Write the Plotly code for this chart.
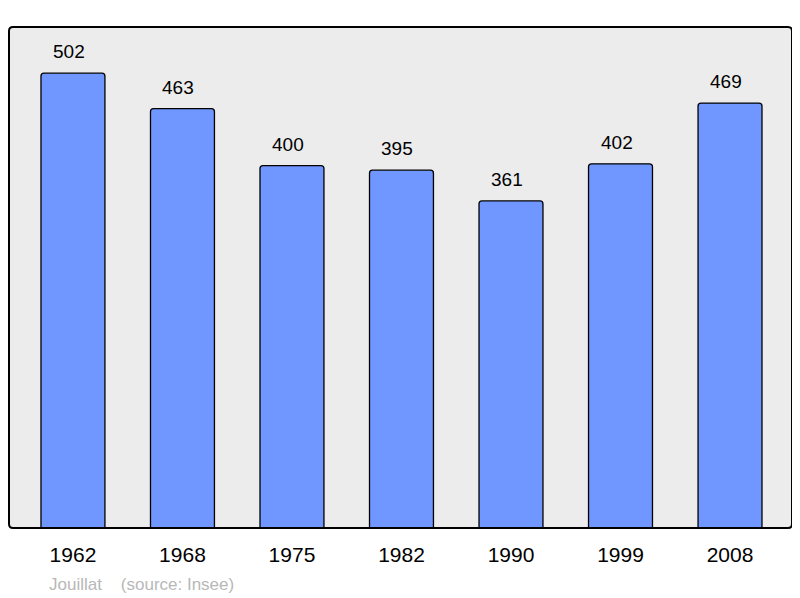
import plotly.graph_objects as go

years = ["1962", "1968", "1975", "1982", "1990", "1999", "2008"]
population = [502, 463, 400, 395, 361, 402, 469]
footer = "Jouillat    (source: Insee)"

# the page body adds an 8px offset; compensate
OFF = 8
W, H = 800 - OFF, 598 - OFF
L, R, T, B = 9 - OFF, 8, 27 - OFF, 70

fig = go.Figure()
fig.add_trace(go.Bar(
    x=years, y=population,
    width=0.584,
    marker=dict(color="#7096ff", line=dict(color="#000000", width=1.3), cornerradius=3),
    hoverinfo="x+y",
))

for i, v in enumerate(population):
    fig.add_annotation(x=i, y=v, text=str(v), showarrow=False,
                       yanchor="bottom", yshift=9, xshift=-4,
                       font=dict(family="Liberation Sans, Arial", size=19, color="#000"))

pw, ph = W - L - R, H - T - B
fig.add_annotation(xref="paper", yref="paper", x=(47 - 9) / pw, y=-(584 - 528) / ph,
                   xanchor="left", yanchor="middle", showarrow=False, text=footer,
                   font=dict(family="Liberation Sans, Arial", size=17, color="#b8b8b8"))

rx, ry = 4 / pw, 4 / ph
frame = (f"M {rx},0 L {1-rx},0 Q 1,0 1,{ry} L 1,{1-ry} Q 1,1 {1-rx},1 "
         f"L {rx},1 Q 0,1 0,{1-ry} L 0,{ry} Q 0,0 {rx},0 Z")
fig.add_shape(type="path", xref="paper", yref="paper", path=frame,
              line=dict(color="#000", width=2), fillcolor="rgba(0,0,0,0)", layer="above")

fig.update_layout(
    width=W, height=H,
    margin=dict(l=L, r=R, t=T, b=B),
    paper_bgcolor="#ffffff",
    plot_bgcolor="#ececec",
    showlegend=False,
    xaxis=dict(type="category", range=[-0.584, 6.566], showgrid=False, zeroline=False,
               ticks="outside", ticklen=8, tickcolor="rgba(0,0,0,0)",
               tickfont=dict(family="Liberation Sans, Arial", size=21, color="#000"), showline=False),
    yaxis=dict(range=[0, 553], showgrid=False, zeroline=False, showticklabels=False, showline=False),
)

fig.write_html("out.html")
